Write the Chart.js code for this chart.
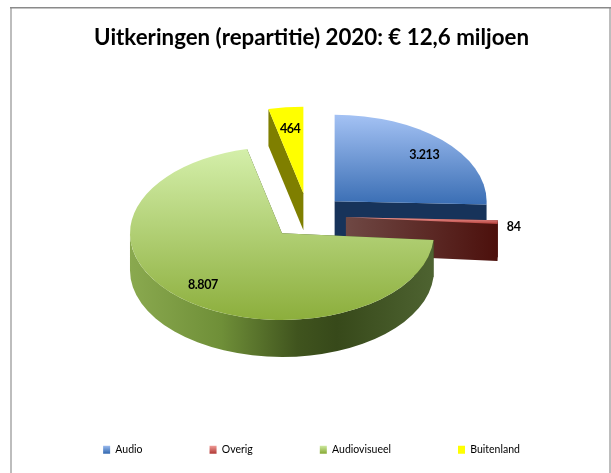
<!DOCTYPE html>
<html>
<head>
<meta charset="utf-8">
<title>Uitkeringen</title>
<script src="https://cdn.jsdelivr.net/npm/chart.js@4"></script>
<style>
  html,body{margin:0;padding:0;background:#fff;overflow:hidden}
  canvas{display:block}
</style>
</head>
<body>
<canvas id="pie" width="611" height="473"></canvas>
<script>
const titleText = "Uitkeringen (repartitie) 2020: € 12,6 miljoen";
const categories = ["Audio", "Overig", "Audiovisueel", "Buitenland"];
const values = [3213, 84, 8807, 464];
const valueLabels = ["3.213", "84", "8.807", "464"];

// 3d look of the pie
const tilt = 0.57;
const depth = 37;
const centerX = 308;
const centerY = 216;
const explode = [37, 38, 40, 40];
const drawOrder = [3, 0, 1, 2];
const labelRadius = [0.82, 1.105, 0.8, 0.75];
const labelDrop = [3, 4, -1, 0];

const topColors = [
  ["#a4c2f4", "#3a6eb4"],
  ["#f2a09c", "#b5403c"],
  ["#d4efaa", "#8cae3c"],
  ["#ffff00", "#ffff00"]
];
const edgeColors = [
  ["#17335a", "#17335a"],
  ["#6f4844", "#4c100c"],
  ["#3c4e1e", "#3c4e1e"],
  ["#7f7f00", "#7f7f00"]
];
const wallColors = [
  [[0, "#17335a"], [1, "#17335a"]],
  [[0, "#6f4844"], [1, "#4c100c"]],
  [[0, "#8aa94f"], [0.3, "#6f8f38"], [0.55, "#40541e"], [0.68, "#37491a"], [1, "#4e6331"]],
  [[0, "#7f7f00"], [1, "#7f7f00"]]
];
const legendColors = [
  ["#a4c2f4", "#3a6eb4"],
  ["#f6a5a0", "#b5403c"],
  ["#d4efaa", "#8cae3c"],
  ["#ffff00", "#ffff00"]
];

function shape(arc) {
  const p = arc.getProps(["startAngle", "endAngle", "outerRadius"], true);
  const mid = (p.startAngle + p.endAngle) / 2;
  const off = arc.options.offset;
  const x = centerX + Math.cos(mid) * off;
  const y = centerY + Math.sin(mid) * off * tilt;
  return {x, y, r: p.outerRadius, ry: p.outerRadius * tilt, start: p.startAngle, end: p.endAngle, mid};
}

function vertical(ctx, y0, y1, colors) {
  const g = ctx.createLinearGradient(0, y0, 0, y1);
  g.addColorStop(0, colors[0]);
  g.addColorStop(1, colors[1]);
  return g;
}

function edgeQuad(ctx, s, angle, colors) {
  const ex = s.x + Math.cos(angle) * s.r;
  const ey = s.y + Math.sin(angle) * s.ry;
  const g = ctx.createLinearGradient(s.x, 0, ex, 0);
  g.addColorStop(0, colors[0]);
  g.addColorStop(1, colors[1]);
  ctx.fillStyle = Math.abs(ex - s.x) < 1 ? colors[0] : g;
  ctx.beginPath();
  ctx.moveTo(s.x, s.y);
  ctx.lineTo(ex, ey);
  ctx.lineTo(ex, ey + depth);
  ctx.lineTo(s.x, s.y + depth);
  ctx.closePath();
  ctx.fill();
}

function outerWall(ctx, s, stops) {
  // only the part of the rim facing the viewer
  const a0 = Math.max(s.start, 0);
  const a1 = Math.min(s.end, Math.PI);
  if (a1 <= a0) return;
  const g = ctx.createLinearGradient(s.x - s.r, 0, s.x + s.r, 0);
  stops.forEach(st => g.addColorStop(st[0], st[1]));
  ctx.fillStyle = g;
  ctx.beginPath();
  ctx.ellipse(s.x, s.y, s.r, s.ry, 0, a0, a1);
  ctx.ellipse(s.x, s.y + depth, s.r, s.ry, 0, a1, a0, true);
  ctx.closePath();
  ctx.fill();
}

function topFace(ctx, s, colors) {
  const ys = [s.y, s.y + Math.sin(s.start) * s.ry, s.y + Math.sin(s.end) * s.ry];
  let y0 = Math.min.apply(null, ys);
  let y1 = Math.max.apply(null, ys);
  if (s.start < Math.PI / 2 && s.end > Math.PI / 2) y1 = s.y + s.ry;
  if (s.start <= -Math.PI / 2 && s.end >= -Math.PI / 2) y0 = s.y - s.ry;
  ctx.fillStyle = vertical(ctx, y0, y1, colors);
  ctx.beginPath();
  ctx.moveTo(s.x, s.y);
  ctx.ellipse(s.x, s.y, s.r, s.ry, 0, s.start, s.end);
  ctx.closePath();
  ctx.fill();
}

const pie3d = {
  id: "pie3d",
  beforeDraw(chart) {
    const ctx = chart.ctx;
    ctx.save();
    ctx.fillStyle = "#fff";
    ctx.fillRect(0, 0, chart.width, chart.height);
    ctx.fillStyle = "#bdbdbd";
    ctx.fillRect(10, 7, 2, chart.height - 7);
    ctx.fillRect(609, 7, 2, chart.height - 7);
    ctx.fillStyle = "#8a8a8a";
    ctx.fillRect(10, 7, 601, 1.5);
    ctx.restore();
  },
  beforeDatasetDraw(chart, args) {
    const ctx = chart.ctx;
    const arcs = args.meta.data;
    ctx.save();
    drawOrder.forEach(i => {
      const s = shape(arcs[i]);
      edgeQuad(ctx, s, s.start, edgeColors[i]);
      edgeQuad(ctx, s, s.end, edgeColors[i]);
      outerWall(ctx, s, wallColors[i]);
      topFace(ctx, s, topColors[i]);
    });
    ctx.font = "bold 12.5px Lato";
    ctx.letterSpacing = "-0.4px";
    ctx.fillStyle = "#000";
    ctx.textAlign = "center";
    ctx.textBaseline = "middle";
    arcs.forEach((arc, i) => {
      const s = shape(arc);
      const lx = s.x + Math.cos(s.mid) * s.r * labelRadius[i];
      const ly = s.y + Math.sin(s.mid) * s.ry * labelRadius[i] + labelDrop[i];
      ctx.fillText(valueLabels[i], lx, ly);
    });
    ctx.restore();
    return false; // the flat arcs are replaced by the 3d ones
  }
};

const canvas = document.getElementById("pie");
const c2d = canvas.getContext("2d");

new Chart(canvas, {
  type: "pie",
  data: {
    labels: categories,
    datasets: [{
      data: values,
      offset: explode,
      radius: 152,
      borderWidth: 0,
      backgroundColor: topColors.map(c => c[1])
    }]
  },
  options: {
    responsive: false,
    animation: false,
    devicePixelRatio: 1,
    layout: {padding: {left: 12, right: 0, top: 0, bottom: 8}},
    plugins: {
      tooltip: {enabled: false},
      title: {
        display: true,
        text: titleText,
        color: "#000",
        font: {family: "Lato", size: 22.3, weight: "bold"},
        padding: {top: 24, bottom: 10}
      },
      legend: {
        position: "bottom",
        labels: {
          font: {family: "Lato", size: 10.5},
          color: "#000",
          boxWidth: 7,
          boxHeight: 8,
          padding: 67,
          generateLabels(chart) {
            return categories.map((name, i) => ({
              text: name,
              fillStyle: vertical(c2d, 445, 453, legendColors[i]),
              strokeStyle: "transparent",
              lineWidth: 0,
              index: i
            }));
          }
        }
      }
    }
  },
  plugins: [pie3d]
});
</script>
</body>
</html>
